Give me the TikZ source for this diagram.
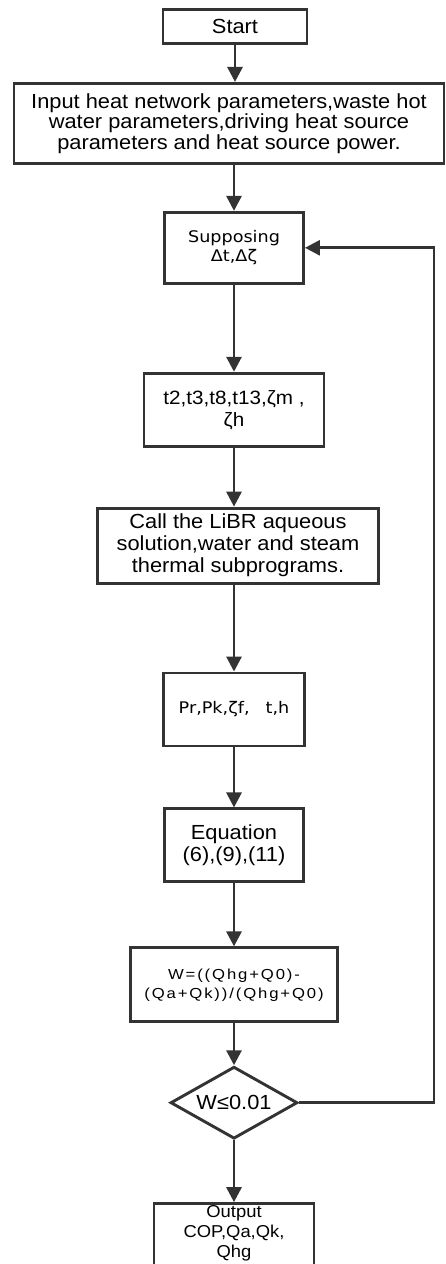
\documentclass[tikz,border=0pt]{standalone}
\usepackage{fontspec}
\setmainfont[FakeStretch=1.07]{Liberation Sans}
\newfontfamily\djvfont[FakeStretch=1.1]{DejaVu Sans}
\newfontfamily\eqfont[FakeStretch=1.15,LetterSpace=13]{Liberation Sans}
\usetikzlibrary{arrows.meta, positioning, shapes.geometric}

\begin{document}
\begin{tikzpicture}[x=1pt, y=-1pt,
    font=\fontsize{20.4}{21}\selectfont,
    box/.style={draw=black!80, line width=2.9pt, align=center, inner sep=2pt},
    cond/.style={diamond, draw=black!80, line width=2.9pt, inner sep=0pt, aspect=1.7},
    arr/.style={-{Triangle[length=15pt, width=15pt]}, line width=2.9pt, draw=black!80}
  ]
  \useasboundingbox (0,0) rectangle (446,1264);

  \node[box, minimum width=144pt, minimum height=34pt] (start) at (235,26.5) {Start};
  \node[box, minimum width=430pt, minimum height=80pt, font=\fontsize{20.4}{20.5}\selectfont,
        below=37pt of start, xshift=-6pt] (input)
    {Input heat network parameters,waste hot\\water parameters,driving heat source\\parameters and heat source power.};
  \node[box, minimum width=139pt, minimum height=71pt, font=\djvfont\fontsize{16}{18.5}\selectfont,
        below=46pt of input, xshift=5pt] (supp) {Supposing\\Δt,Δζ};
  \node[box, minimum width=180pt, minimum height=73pt, font=\fontsize{19.3}{22}\selectfont,
        below=87pt of supp] (temps) {t2,t3,t8,t13,ζm ,\\ζh};
  \node[box, minimum width=281pt, minimum height=75pt, font=\fontsize{20.4}{22}\selectfont,
        below=59pt of temps, xshift=4pt] (call)
    {Call the LiBR aqueous\\solution,water and steam\\thermal subprograms.};
  \node[box, minimum width=141pt, minimum height=73pt, font=\djvfont\fontsize{16}{18.5}\selectfont,
        below=87pt of call, xshift=-4pt] (press) {Pr,Pk,ζf,\hspace{1em}t,h};
  \node[box, minimum width=139pt, minimum height=73pt, font=\fontsize{20.4}{21.5}\selectfont,
        below=60pt of press] (eqn) {Equation\\(6),(9),(11)};
  \node[box, minimum width=207pt, minimum height=74pt, font=\eqfont\fontsize{14.5}{19}\selectfont,
        below=63pt of eqn] (wcalc) {W=((Qhg+Q0)-\\(Qa+Qk))/(Qhg+Q0)};
  \node[cond, minimum width=127pt, minimum height=72pt, below=42pt of wcalc] (check) {W≤0.01};
  \node[box, minimum width=160pt, text depth=60pt, font=\fontsize{17.2}{20}\selectfont,
        below=62pt of check] (output) {Output\\COP,Qa,Qk,\\Qhg};
  \coordinate[right=135pt of check.east] (back);

  \draw[arr] (start) -- (start |- input.north);
  \draw[arr] (input.south -| supp) -- (supp);
  \draw[arr] (supp) -- (temps);
  \draw[arr] (temps) -- (temps |- call.north);
  \draw[arr] (call.south -| press) -- (press);
  \draw[arr] (press) -- (eqn);
  \draw[arr] (eqn) -- (wcalc);
  \draw[arr] (wcalc) -- (check);
  \draw[arr] (check) -- (output);
  \draw[arr] (check.east) -- (back) |- (supp.east);
\end{tikzpicture}
\end{document}
